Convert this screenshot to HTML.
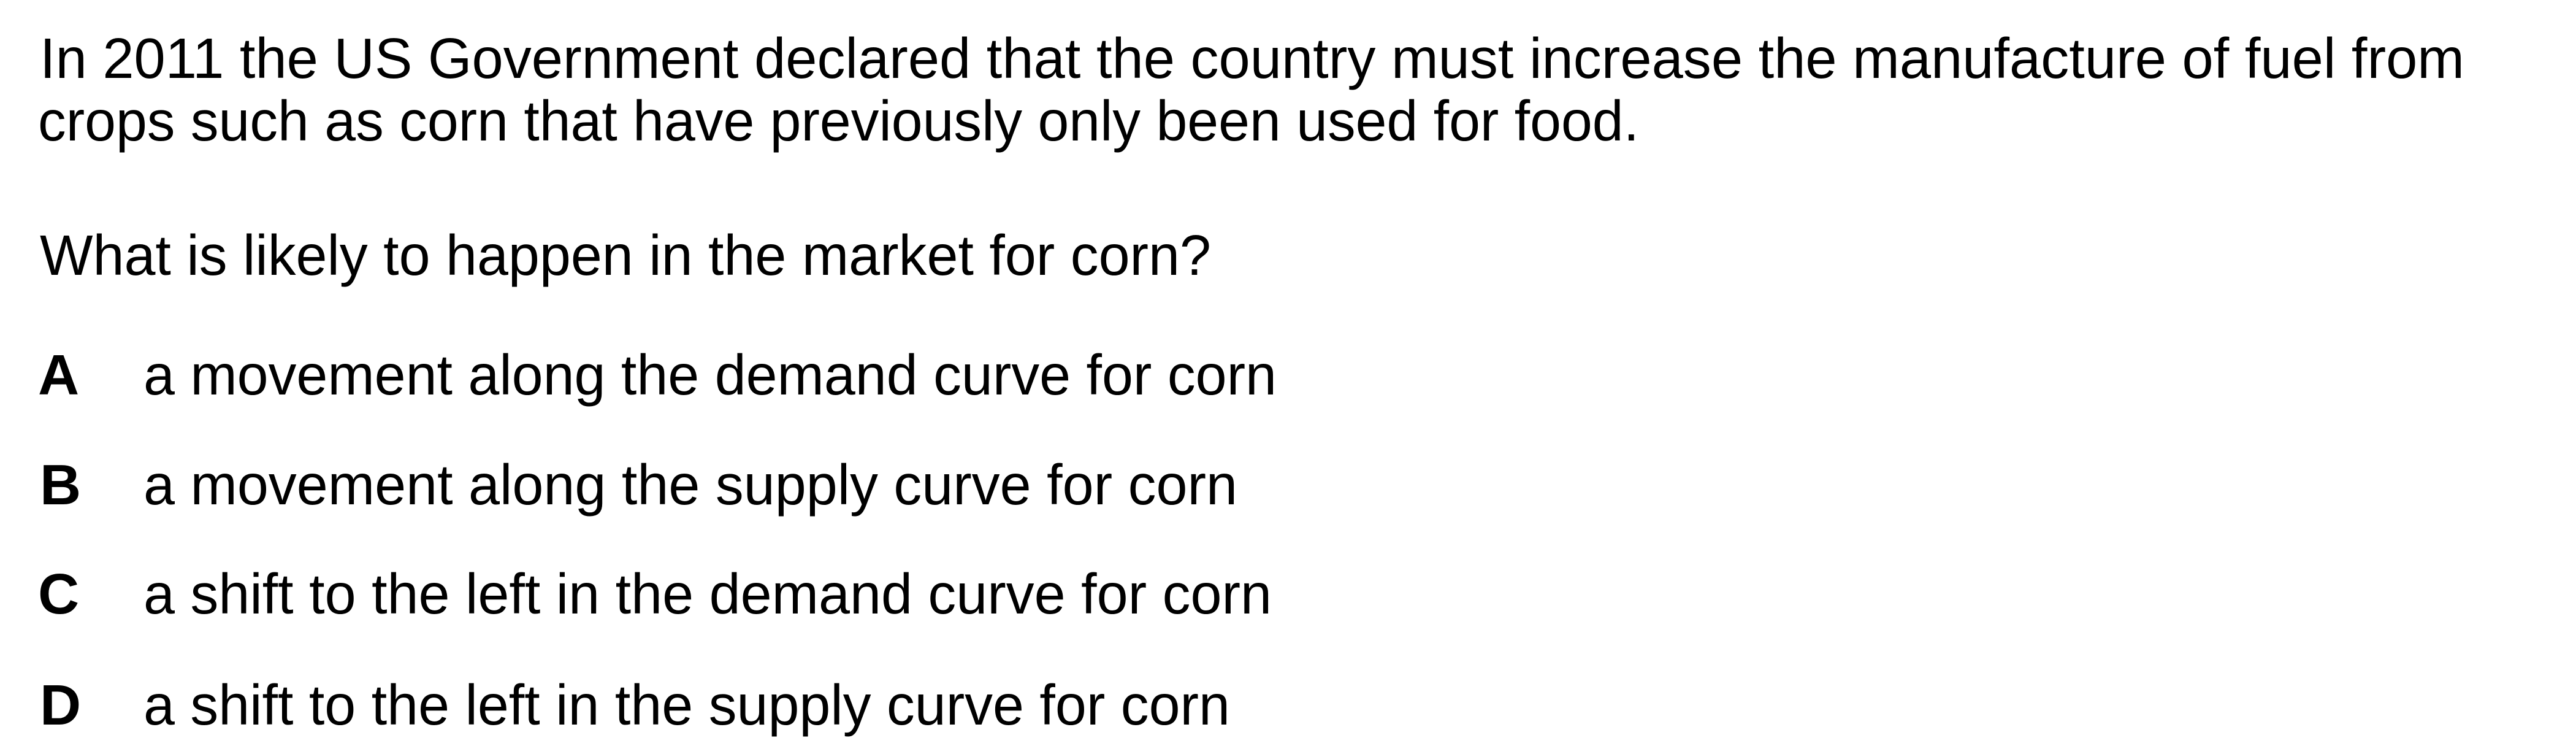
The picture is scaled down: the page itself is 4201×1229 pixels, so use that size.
<!DOCTYPE html>
<html><head><meta charset="utf-8"><style>
html,body{margin:0;padding:0;background:#fff;width:4201px;height:1229px;overflow:hidden}
svg text{font-family:"Liberation Sans",Arial,sans-serif;font-size:93px;fill:#000}
.b{font-weight:bold}
</style></head><body>
<svg width="4201" height="1229" viewBox="0 0 4201 1229">
<rect width="4201" height="1229" fill="#fff"/>
<text x="65" y="127" textLength="3954" lengthAdjust="spacingAndGlyphs">In 2011 the US Government declared that the country must increase the manufacture of fuel from</text>
<text x="62" y="229" textLength="2611" lengthAdjust="spacingAndGlyphs">crops such as corn that have previously only been used for food.</text>
<text x="65" y="448" textLength="1910" lengthAdjust="spacingAndGlyphs">What is likely to happen in the market for corn?</text>
<g>
<text class="b" x="62" y="643">A</text>
<text x="234" y="643" textLength="1848" lengthAdjust="spacingAndGlyphs">a movement along the demand curve for corn</text>
</g>
<g>
<text class="b" x="65" y="822">B</text>
<text x="234" y="822" textLength="1784" lengthAdjust="spacingAndGlyphs">a movement along the supply curve for corn</text>
</g>
<g>
<text class="b" x="62" y="1000">C</text>
<text x="234" y="1000" textLength="1840" lengthAdjust="spacingAndGlyphs">a shift to the left in the demand curve for corn</text>
</g>
<g>
<text class="b" x="65" y="1181">D</text>
<text x="234" y="1181" textLength="1772" lengthAdjust="spacingAndGlyphs">a shift to the left in the supply curve for corn</text>
</g>
</svg>
</body></html>
